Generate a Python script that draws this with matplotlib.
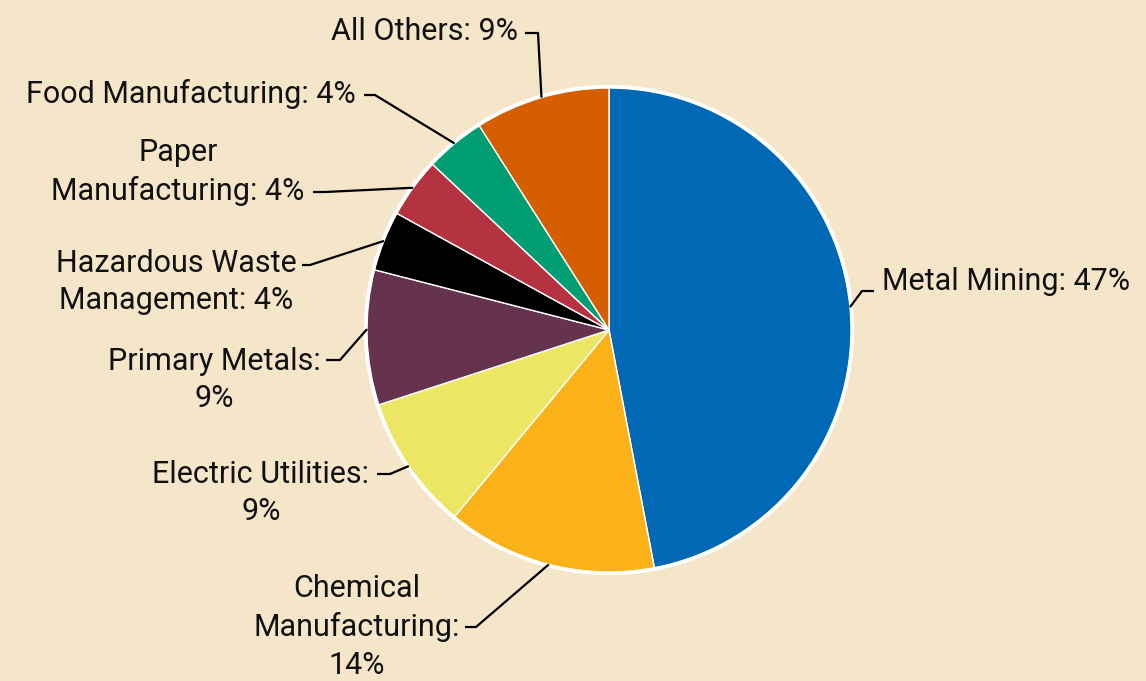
import numpy as np
import matplotlib.pyplot as plt
from matplotlib.patches import Circle

plt.rcParams['font.family'] = ['Roboto', 'DejaVu Sans']

categories = ['Metal Mining', 'Chemical Manufacturing', 'Electric Utilities',
              'Primary Metals', 'Hazardous Waste Management', 'Paper Manufacturing',
              'Food Manufacturing', 'All Others']
shares = [47, 14, 9, 9, 4, 4, 4, 9]
label_texts = ['Metal Mining: 47%', 'Chemical\nManufacturing:\n14%',
               'Electric Utilities:\n9%', 'Primary Metals:\n9%',
               'Hazardous Waste\nManagement: 4%', 'Paper\nManufacturing: 4%',
               'Food Manufacturing: 4%', 'All Others: 9%']
colors = ['#0068b4', '#fbb218', '#ede564', '#66334f', '#000000',
          '#b53340', '#009e72', '#d55e00']

W, H = 1146, 681
bg = '#f5e6c9'
cx, cy, R = 609, H - 330, 242

fig = plt.figure(figsize=(W / 100, H / 100), dpi=100, facecolor=bg)
ax = fig.add_axes([0, 0, 1, 1])
ax.set_facecolor(bg)

wedges, _ = ax.pie(shares, colors=colors, startangle=90, counterclock=False,
                   center=(cx, cy), radius=R,
                   wedgeprops=dict(edgecolor='white', linewidth=1.0))
ax.add_patch(Circle((cx, cy), R + 1.5, fill=False, edgecolor='white', lw=2.4, zorder=3))
ax.set_xlim(0, W)
ax.set_ylim(0, H)
ax.set_aspect('equal')
ax.axis('off')

# label layout in pixel coords (top-left origin): text anchor, elbow, line end
layout = [
    dict(text=(882, 282), ha='left', elbow=(862, 291), end=(874, 291), off=0),
    dict(text=(357, 627), ha='center', elbow=(476, 627), end=(465, 627), off=0),
    dict(text=(261, 493), ha='center', elbow=(390, 474), end=(377, 474), off=0),
    dict(text=(214, 380), ha='center', elbow=(340, 360), end=(326, 360), off=-2),
    dict(text=(176, 282), ha='center', elbow=(310, 265), end=(302, 265), off=0),
    dict(text=(178, 172), ha='center', elbow=(325, 192), end=(313, 192), off=0),
    dict(text=(356, 94), ha='right', elbow=(375, 95), end=(364, 95), off=0),
    dict(text=(518, 32), ha='right', elbow=(538, 33), end=(525, 33), off=0),
]

for w, lab, lay in zip(wedges, label_texts, layout):
    mid = np.deg2rad((w.theta1 + w.theta2) / 2 + lay['off'])
    px = cx + R * np.cos(mid)
    py = cy + R * np.sin(mid)
    ex, ey = lay['elbow']
    tx, ty = lay['end']
    ax.plot([px, ex, tx], [py, H - ey, H - ty], color='black', lw=1.6,
            solid_capstyle='butt', zorder=4)
    ax.text(lay['text'][0], H - lay['text'][1], lab, ha=lay['ha'], va='center',
            fontsize=22, color='#111111', linespacing=1.38, multialignment='center')

fig.savefig('out.png', dpi=100, facecolor=bg)
